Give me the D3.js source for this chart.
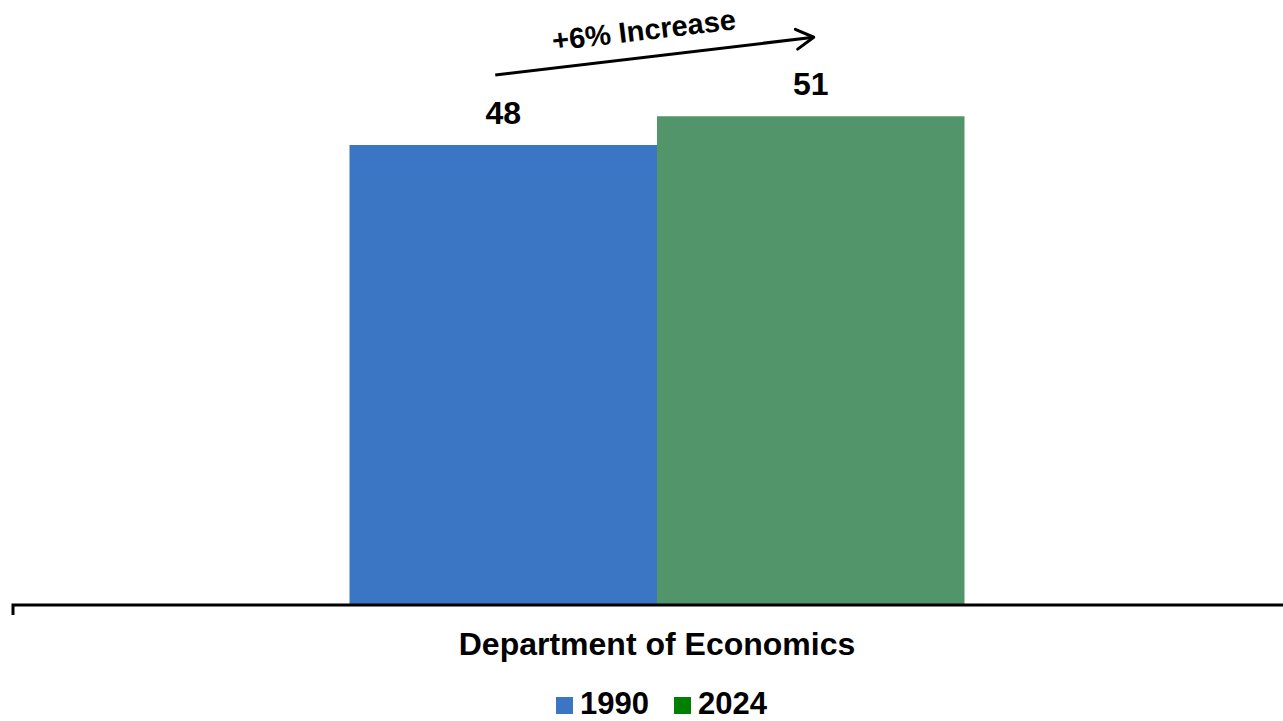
<!DOCTYPE html>
<html><head><meta charset="utf-8">
<script src="https://cdn.jsdelivr.net/npm/d3@7"></script>
<style>html,body{margin:0;padding:0;background:#fff;}svg{display:block;}</style>
</head><body>
<svg id="chart" width="1283" height="721"></svg>
<script>
const categories = ["Department of Economics"];
const seriesNames = ["1990", "2024"];
const values1990 = [48];
const values2024 = [51];
const barColors = ["#3B76C4", "#52956A"];
const legendColors = ["#3B76C4", "#008000"];
const annotationText = "+6% Increase";

const svg = d3.select("#chart");
const font = "Liberation Sans, Arial, sans-serif";

const y = d3.scaleLinear().domain([0, 60]).range([605, 30]);

const catW = 615;
const catCenter = 657;
const x0 = d3.scaleBand().domain(categories).range([catCenter - catW/2, catCenter + catW/2]).padding(0);
const x1 = d3.scaleBand().domain(seriesNames).range([0, x0.bandwidth()]).padding(0);

const data = categories.map((c, i) => ({cat: c, vals: [values1990[i], values2024[i]]}));

const g = svg.append("g");
data.forEach(d => {
  d.vals.forEach((v, j) => {
    const s = seriesNames[j];
    const bx = x0(d.cat) + x1(s);
    g.append("rect")
      .attr("x", bx).attr("y", y(v))
      .attr("width", x1.bandwidth()).attr("height", y(0) - y(v))
      .attr("fill", barColors[j]);
    g.append("text")
      .attr("x", bx + x1.bandwidth()/2)
      .attr("y", y(v) - 21)
      .attr("text-anchor", "middle")
      .attr("font-family", font).attr("font-weight", "bold").attr("font-size", 32)
      .attr("fill", "#000").text(v);
  });
});

// axis
const axisG = svg.append("g").attr("transform", `translate(0,${y(0)})`);
axisG.append("path").attr("d", `M13,10V0H1283`).attr("fill", "none").attr("stroke", "#000").attr("stroke-width", 3);
axisG.append("text").attr("x", x0(categories[0]) + x0.bandwidth()/2).attr("y", 50)
  .attr("text-anchor", "middle").attr("font-family", font).attr("font-weight", "bold").attr("font-size", 32)
  .text(categories[0]);

// arrow annotation
const xa = x0(categories[0]) + x1(seriesNames[0]) + x1.bandwidth()/2;
const xb = x0(categories[0]) + x1(seriesNames[1]) + x1.bandwidth()/2;
const p0 = [xa - 8, y(values1990[0]) - 70];
const p1 = [xb + 3, y(values2024[0]) - 79];
svg.append("line").attr("x1", p0[0]).attr("y1", p0[1]).attr("x2", p1[0]).attr("y2", p1[1])
  .attr("stroke", "#000").attr("stroke-width", 3);
const ang = Math.atan2(p1[1]-p0[1], p1[0]-p0[0]);
const L = 20, spread = 0.52;
const h1 = [p1[0] - L*Math.cos(ang - spread), p1[1] - L*Math.sin(ang - spread)];
const h2 = [p1[0] - L*Math.cos(ang + spread), p1[1] - L*Math.sin(ang + spread)];
svg.append("path").attr("d", `M${h1[0]},${h1[1]}L${p1[0]},${p1[1]}L${h2[0]},${h2[1]}`)
  .attr("fill", "none").attr("stroke", "#000").attr("stroke-width", 3).attr("stroke-linecap", "round").attr("stroke-linejoin", "round");
const deg = ang * 180 / Math.PI;
svg.append("text").attr("transform", `translate(645,40) rotate(${deg})`)
  .attr("text-anchor", "middle").attr("font-family", font).attr("font-weight", "bold").attr("font-size", 29)
  .text(annotationText);

// legend
const legendItems = [{name: seriesNames[0], x: 556}, {name: seriesNames[1], x: 674}];
legendItems.forEach((it, j) => {
  svg.append("rect").attr("x", it.x).attr("y", 697).attr("width", 17).attr("height", 17).attr("fill", legendColors[j]);
  svg.append("text").attr("x", it.x + 24).attr("y", 714)
    .attr("font-family", font).attr("font-weight", "bold").attr("font-size", 31).text(it.name);
});
</script>
</body></html>
